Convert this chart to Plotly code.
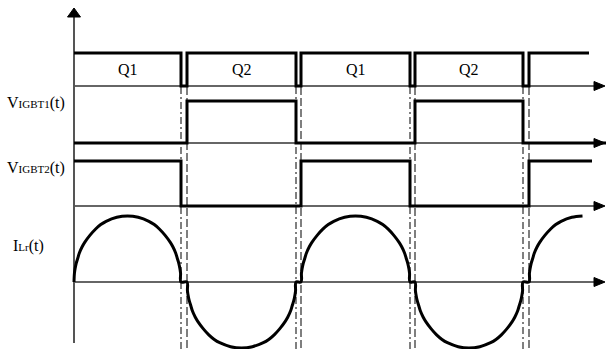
import plotly.graph_objects as go

# ---- signal data (time units, logic levels) ----
# gate drive: which switch is on (1 = pulse high)
gate_t = [0, 107, 113, 222, 227, 336, 341, 449, 455, 515]
gate_v = [1, 0, 1, 0, 1, 0, 1, 0, 1, 1]
gate_labels = ["Q1", "Q2", "Q1", "Q2"]

# IGBT voltages
vigbt1_t = [0, 113, 222, 341, 449, 532]
vigbt1_v = [0, 1, 0, 1, 0, 0]
vigbt2_t = [0, 107, 227, 336, 455, 518]
vigbt2_v = [1, 0, 1, 0, 1, 1]

# resonant current: half-cycle lobes (start, end, sign)
lobe_start = [0, 113, 227, 341, 455]
lobe_end = [107, 222, 336, 449, 562]
lobe_sign = [1, -1, 1, -1, 1]
lobe_stop = 515  # trace ends part-way through the last lobe
# normalised lobe profile (phase within half-cycle, magnitude)
lobe_phase = [0, 0.004, 0.01, 0.02, 0.035, 0.05, 0.075, 0.1, 0.15, 0.2, 0.25, 0.3,
              0.4, 0.5, 0.6, 0.7, 0.75, 0.8, 0.85, 0.9, 0.925, 0.95, 0.965, 0.98,
              0.99, 0.996, 1.0]
lobe_mag = [0, 0.13, 0.2, 0.28, 0.36, 0.44, 0.53, 0.6, 0.71, 0.8, 0.87, 0.92,
            0.98, 1.0, 0.98, 0.92, 0.87, 0.8, 0.71, 0.6, 0.53, 0.44, 0.36, 0.28,
            0.2, 0.13, 0]

# ---- layout constants (pixels) ----
X0 = 74            # time origin
BASE = [86, 143, 206, 282]
AMP = [33, 42, 45, 66]
Y_AX_TOP = 8
Y_AX_BOT = 343
X_AX_END = 531
DASH_TOP, DASH_BOT = 87, 349

fig = go.Figure()


def row_y(levels, row):
    return [BASE[row] - v * AMP[row] for v in levels]


def add_line(x, y, width=3, color="black", shape="linear", dash=None):
    fig.add_trace(go.Scatter(x=x, y=y, mode="lines",
                             line=dict(color=color, width=width, shape=shape, dash=dash),
                             hoverinfo="skip", showlegend=False))


def add_tri(xs, ys, color="black"):
    fig.add_trace(go.Scatter(x=xs, y=ys, mode="lines", fill="toself", fillcolor=color,
                             line=dict(color=color, width=1),
                             hoverinfo="skip", showlegend=False))


# dead-time guide lines
for a, b in zip(gate_t[1:-1:2], gate_t[2:-1:2]):
    add_line([a, a], [DASH_TOP, DASH_BOT], width=1, color="black", dash="7px,3px,2px,3px")
    add_line([b, b], [DASH_TOP, DASH_BOT], width=1.5, color="#555", dash="8px,3px")

# time axes with arrowheads
for r in range(4):
    add_line([0, X_AX_END - 10], [BASE[r], BASE[r]], width=1.5, color="#333")
    add_tri([X_AX_END - 11, X_AX_END, X_AX_END - 11, X_AX_END - 11],
            [BASE[r] - 4.5, BASE[r], BASE[r] + 4.5, BASE[r] - 4.5])

# vertical axis
add_line([0, 0], [Y_AX_BOT, Y_AX_TOP + 8], width=2, color="#555")
add_tri([-6.5, 0, 6.5, -6.5], [Y_AX_TOP + 9, Y_AX_TOP, Y_AX_TOP + 9, Y_AX_TOP + 9])

# digital waveforms
add_line(gate_t, row_y(gate_v, 0), shape="hv")
add_line(vigbt1_t, row_y(vigbt1_v, 1), shape="hv")
add_line(vigbt2_t, row_y(vigbt2_v, 2), shape="hv")

# resonant current
cx, cy = [], []
for s, e, sg in zip(lobe_start, lobe_end, lobe_sign):
    for p, m in zip(lobe_phase, lobe_mag):
        t = s + p * (e - s)
        if t > lobe_stop:
            break
        cx.append(t)
        cy.append(BASE[3] - sg * m * AMP[3])
add_line(cx, cy, shape="spline")

# labels
serif = "Liberation Serif"
highs = [(gate_t[i], gate_t[i + 1]) for i in range(len(gate_t) - 1) if gate_v[i] == 1]
for (a, b), lab in zip(highs, gate_labels):
    fig.add_annotation(x=(a + b) / 2, y=BASE[0] - AMP[0] / 2, text=lab, showarrow=False,
                       font=dict(family=serif, size=16, color="black"))

sig_labels = [
    ("V<span style='font-size:11px'>IGBT1</span>(t)", BASE[1] - AMP[1] + 2, -38),
    ("V<span style='font-size:11px'>IGBT2</span>(t)", BASE[2] - AMP[2] + 7, -38),
    ("I<span style='font-size:11px'>Lr</span>(t)", BASE[3] - 36, -46),
]
for txt, y, x in sig_labels:
    fig.add_annotation(x=x, y=y, text=txt, showarrow=False,
                       font=dict(family=serif, size=16, color="black"))

fig.update_layout(
    width=606, height=349,
    margin=dict(l=0, r=0, t=0, b=0),
    paper_bgcolor="white", plot_bgcolor="white",
    xaxis=dict(range=[-X0, 606 - X0], visible=False, fixedrange=True),
    yaxis=dict(range=[349, 0], visible=False, fixedrange=True),
    showlegend=False,
)

fig.write_html("out.html")
